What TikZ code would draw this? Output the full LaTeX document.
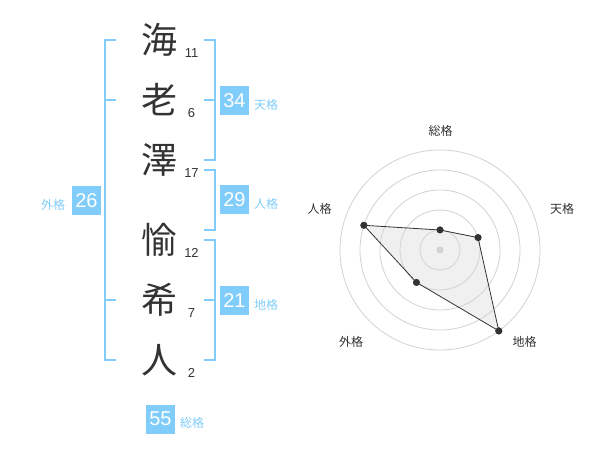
\documentclass[tikz,border=0pt]{standalone}
\usepackage{fontspec}
\setmainfont{Liberation Sans}
\newfontfamily\cjk{Noto Sans CJK JP}
\definecolor{blu}{RGB}{128,204,250}
\definecolor{dk}{RGB}{51,51,51}
\definecolor{gridc}{RGB}{210,210,210}
\begin{document}
\begin{tikzpicture}[x=1pt,y=-1pt,
  kanji/.style={font=\cjk\fontsize{36}{36}\selectfont, text=dk, inner sep=0pt},
  strk/.style={font=\fontsize{13}{13}\selectfont, text=dk, inner sep=0pt},
  numbox/.style={fill=blu, text=white, minimum size=29pt, inner sep=0pt, font=\fontsize{20}{20}\selectfont},
  blabel/.style={font=\cjk\fontsize{12}{12}\selectfont, text=blu, inner sep=0pt},
  bracket/.style={draw=blu, line width=2pt},
  rlabel/.style={font=\cjk\fontsize{12}{12}\selectfont, text=dk, inner sep=0pt},
  ring/.style={draw=gridc, line width=0.8pt},
  dot/.style={circle, fill=dk, inner sep=0pt, minimum size=7pt},
]
\useasboundingbox (0,0) rectangle (600,470);

% name characters
\node[kanji] (k1) at (159,40) {海};
\node[kanji] (k2) at (159,100) {老};
\node[kanji] (k3) at (159,160) {澤};
\node[kanji] (k4) at (159,240) {愉};
\node[kanji] (k5) at (159,300) {希};
\node[kanji] (k6) at (159,360) {人};

% stroke counts
\node[strk] (s1) at (191.5,53) {11};
\node[strk] (s2) at (191.5,113) {6};
\node[strk] (s3) at (191.5,173) {17};
\node[strk] (s4) at (191.5,253) {12};
\node[strk] (s5) at (191.5,313) {7};
\node[strk] (s6) at (191.5,373) {2};

% brackets
\draw[bracket] (116,40) -- (105,40) -- (105,360) -- (116,360);
\draw[bracket] (105,100) -- (116,100);
\draw[bracket] (105,300) -- (116,300);
\draw[bracket] (204,40) -- (215,40) -- (215,160) -- (204,160);
\draw[bracket] (204,100) -- (215,100);
\draw[bracket] (204,170) -- (215,170) -- (215,230) -- (204,230);
\draw[bracket] (204,240) -- (215,240) -- (215,360) -- (204,360);
\draw[bracket] (204,300) -- (215,300);

% boxes
\node[numbox] (ten) at (234.5,100.5) {34};
\node[blabel] (tenl) at (266,104.5) {天格};
\node[numbox] (jin) at (234.5,200) {29};
\node[blabel] (jinl) at (266,204) {人格};
\node[numbox] (chi) at (234.5,300.5) {21};
\node[blabel] (chil) at (266,304.5) {地格};
\node[numbox] (gai) at (86.5,200.5) {26};
\node[blabel] (gail) at (53,204.5) {外格};
\node[numbox] (sou) at (160.5,419) {55};
\node[blabel] (soul) at (192,422.5) {総格};

% radar chart
\coordinate (c) at (440,250);
\node[dot] (p1) at (440,230) {};
\node[dot] (p2) at (478,237.6) {};
\node[dot] (p3) at (498.8,330.9) {};
\node[dot] (p4) at (416.5,282.4) {};
\node[dot] (p5) at (363.9,225.3) {};
\fill[black!6] (p1.center) -- (p2.center) -- (p3.center) -- (p4.center) -- (p5.center) -- cycle;
\foreach \r in {20,40,60,80,100} \draw[ring] (c) circle[radius=\r];
\draw[dk, line width=0.8pt] (p1.center) -- (p2.center) -- (p3.center) -- (p4.center) -- (p5.center) -- cycle;
\node[dot] at (p1) {};
\node[dot] at (p2) {};
\node[dot] at (p3) {};
\node[dot] at (p4) {};
\node[dot] at (p5) {};
\node[circle, fill=gridc, inner sep=0pt, minimum size=7pt] (cd) at (c) {};

\node[rlabel] (l1) at (440.5,130.5) {総格};
\node[rlabel] (l2) at (562,208.5) {天格};
\node[rlabel] (l3) at (524.5,342) {地格};
\node[rlabel] (l4) at (351,342) {外格};
\node[rlabel] (l5) at (319.5,208.5) {人格};
\end{tikzpicture}
\end{document}
